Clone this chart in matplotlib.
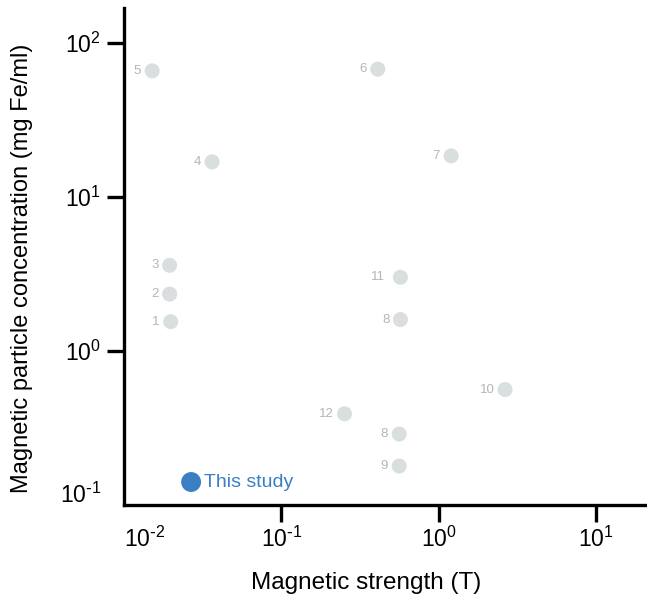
import matplotlib
matplotlib.use("Agg")
import matplotlib.pyplot as plt
import matplotlib.transforms as mtransforms

plt.rcParams['font.family'] = ['Liberation Sans', 'DejaVu Sans']
plt.rcParams['axes.unicode_minus'] = False

# Data: magnetic strength (T) and particle concentration (mg Fe/ml)
labels = ['5', '6', '4', '7', '3', '2', '1', '11', '8', '10', '12', '8', '9']
strength = [0.0151, 0.41, 0.0363, 1.2, 0.0195, 0.0195, 0.0198, 0.571, 0.571, 2.64, 0.252, 0.561, 0.561]
concentration = [65.9, 67.6, 16.9, 18.5, 3.6, 2.34, 1.55, 3.01, 1.60, 0.562, 0.391, 0.289, 0.179]
label_offsets = [-11, -11, -11, -11, -11, -11, -11, -15, -11, -10, -11, -11, -11]

study_label = 'This study'
study_strength = [0.0267]
study_concentration = [0.141]

xticks = [0.01, 0.1, 1, 10]
xticklabels = [r'$\mathdefault{10^{\text{-}2}}$', r'$\mathdefault{10^{\text{-}1}}$',
               r'$\mathdefault{10^{0}}$', r'$\mathdefault{10^{1}}$']
yticks = [0.1, 1, 10, 100]
yticklabels = [r'$\mathdefault{10^{\text{-}1}}$', r'$\mathdefault{10^{0}}$',
               r'$\mathdefault{10^{1}}$', r'$\mathdefault{10^{2}}$']

W, H = 647, 596
fig = plt.figure(figsize=(W / 100, H / 100), dpi=100)
ax = fig.add_axes([124 / W, 1 - 505 / H, (645 - 124) / W, (505 - 8) / H])

gray = '#d9dede'
ax.scatter(strength, concentration, s=117, color=gray, edgecolors='none', zorder=3)
for lab, x, y, off in zip(labels, strength, concentration, label_offsets):
    ax.annotate(lab, (x, y), xytext=(off, 0), textcoords='offset pixels',
                ha='right', va='center', fontsize=9.5, color='#b5b5b5')

blue = '#3a7ec4'
ax.scatter(study_strength, study_concentration, s=205, color=blue, edgecolors='none', zorder=4)
ax.annotate(study_label, (study_strength[0], study_concentration[0]), xytext=(13, 0),
            textcoords='offset pixels', ha='left', va='center', fontsize=14, color=blue)

ax.set_xscale('log')
ax.set_yscale('log')
ax.set_xlim(0.01, 10 ** 1.311)
ax.set_ylim(10 ** -0.987, 10 ** 2.227)
ax.set_xticks(xticks)
ax.set_xticklabels(xticklabels)
ax.set_yticks(yticks)
ax.set_yticklabels(yticklabels)
ax.minorticks_off()

for side in ['top', 'right']:
    ax.spines[side].set_visible(False)
for side in ['left', 'bottom']:
    ax.spines[side].set_linewidth(2.4)

ax.tick_params(axis='both', which='major', length=12.5, width=2.4, labelsize=16.5, pad=3)
ax.tick_params(axis='y', pad=4)

fig.canvas.draw()
xt = ax.xaxis.get_major_ticks()[0]
xt.tick1line.set_visible(False)
xt.label1.set_horizontalalignment('left')
yt = ax.yaxis.get_major_ticks()[0]
yt.tick1line.set_visible(False)
yt.label1.set_transform(yt.label1.get_transform() +
                        mtransforms.ScaledTranslation(0, 12 / 100, fig.dpi_scale_trans))

ax.set_xlabel('Magnetic strength (T)', fontsize=17.5)
ax.set_ylabel('Magnetic particle concentration (mg Fe/ml)', fontsize=17)
ax.xaxis.set_label_coords(0.465, -0.135)
ax.yaxis.set_label_coords(-0.175, 0.477)

fig.savefig('out.png', dpi=100)
